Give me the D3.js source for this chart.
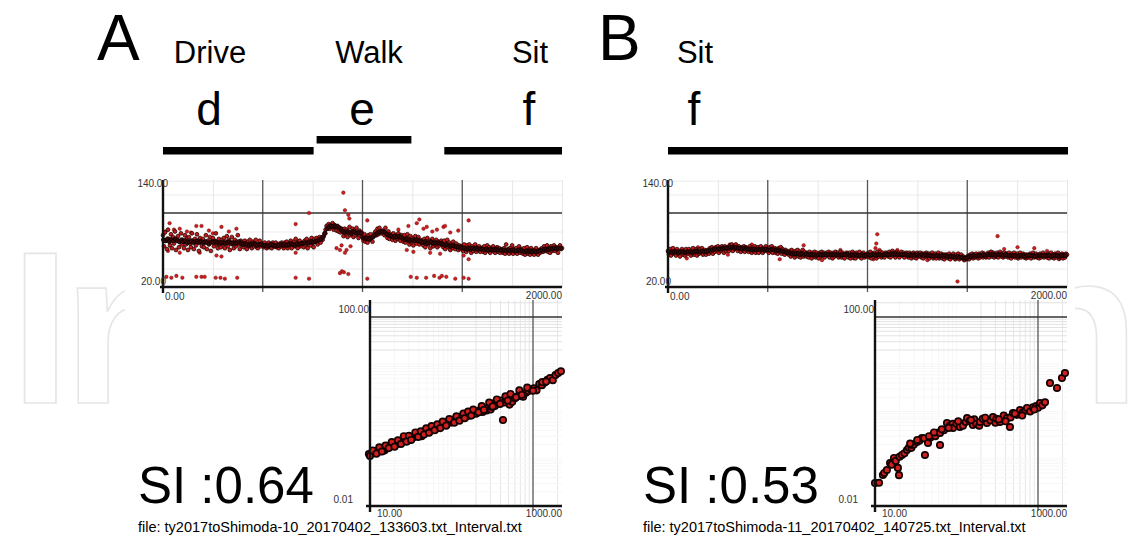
<!DOCTYPE html>
<html><head><meta charset="utf-8">
<script src="https://cdn.jsdelivr.net/npm/d3@7"></script>
<style>
body{margin:0;background:#fff;}
svg{display:block;}
text{font-family:"Liberation Sans",Arial,Helvetica,sans-serif;}
</style>
</head><body>
<svg id="c" width="1145" height="538"></svg>
<script>
// ---------- DATA ----------
// Heart-rate-like time series, spread beats (one value every 5 beats, 0..2000)
const hrA = [
76,64,79,70,61,82,72,65,77,62,74,67,80,60,71,75,63,69,78,66,
71,62,76,66,73,60,74,67,63,78,70,61,72,65,77,68,59,73,70,64,
72,63,68,76,61,70,66,74,59,69,73,64,70,78,66,62,72,68,63,71,
66,73,62,69,75,64,71,60,68,74,66,62,71,64,69,76,66,61,70,65,
68,63,70,65,61,69,64,71,66,62,69,64,67,71,63,62,67,70,64,67,
66,63,68,65,62,66,68,63,66,62,68,64,66,68,63,66,62,67,64,68,
65,62,68,64,69,62,67,65,70,62,67,69,64,72,66,62,69,70,64,67,
68,63,70,65,72,62,68,70,65,73,68,63,72,69,73,66,71,74,68,72,
71,75,78,82,86,84,88,83,87,85,89,82,87,84,81,86,80,84,79,83,
80,75,83,77,82,74,80,85,76,79,83,74,81,76,84,78,73,81,76,79,
75,70,77,69,74,68,76,71,77,73,69,75,78,80,76,83,77,84,79,78,
81,78,76,84,77,73,80,72,77,74,71,78,73,70,76,72,78,73,70,76,
74,69,76,68,73,77,70,66,75,68,73,65,71,75,67,70,74,66,71,68,
70,65,72,63,68,73,66,70,62,68,72,64,69,66,71,63,69,65,67,70,
68,63,70,61,66,71,63,68,60,66,62,69,64,61,67,63,60,65,61,64,
64,59,66,61,58,65,60,66,61,57,64,59,62,66,58,62,60,64,58,62,
62,58,64,57,61,65,59,63,57,61,59,64,61,57,60,63,58,62,57,60,
61,57,62,56,66,58,61,56,62,58,65,56,61,58,62,56,60,64,57,61,
60,56,62,55,59,63,56,60,55,62,57,60,55,58,62,57,55,60,57,61,
62,58,64,59,61,65,58,62,57,64,59,62,65,59,63,61,57,63,65,61,
62];
// core beats (one value every 10 beats, offset 2.5)
const coreA = [
71,70,72,69,71,70,72,70,69,71, 69,70,68,69,70,68,69,70,68,69,
68,69,68,67,69,68,69,68,67,68, 68,67,68,69,67,68,67,68,69,67,
66,67,66,65,66,67,66,65,66,66, 65,65,64,65,66,65,64,65,65,66,
65,66,65,66,67,66,65,67,66,67, 67,68,67,68,69,68,69,70,71,72,
74,78,83,85,86,85,86,85,84,82, 80,79,80,79,78,80,79,78,79,78,
73,72,73,72,73,74,76,78,79,80, 80,79,77,76,75,74,75,74,75,74,
72,71,72,71,70,71,70,71,70,69, 68,69,67,68,69,67,68,67,68,67,
66,65,66,65,64,65,64,64,63,63, 62,62,61,62,61,62,61,62,61,61,
61,60,61,60,61,60,60,61,60,60, 59,60,59,60,59,60,59,59,60,59,
59,58,59,58,59,58,59,58,59,59, 60,61,60,61,62,61,62,61,62,62];
const hrB = [
59,55,61,54,58,62,56,59,54,61,56,59,53,58,61,55,59,54,61,57,
56,61,58,54,59,62,55,58,61,54,59,56,61,57,62,55,58,60,55,59,
60,56,62,58,63,56,61,58,63,59,64,57,62,59,64,61,57,64,59,62,
63,59,65,61,66,59,64,61,66,62,59,64,61,58,63,60,64,58,63,60,
62,58,64,59,57,62,59,64,57,61,63,57,61,64,59,57,62,59,64,59,
61,57,63,59,64,57,61,62,57,61,56,62,58,63,56,61,58,55,60,57,
58,55,59,53,60,55,58,52,59,54,60,53,58,52,57,60,53,58,55,53,
57,52,58,54,51,57,53,58,52,57,54,51,57,53,58,54,57,52,55,57,
54,58,52,57,54,51,57,53,58,54,57,52,55,58,52,57,54,51,56,57,
56,52,57,51,55,58,52,56,51,57,53,55,58,52,51,56,57,52,55,53,
56,57,52,58,51,56,53,57,55,51,58,53,56,58,52,57,55,52,57,55,
57,53,58,52,57,59,54,57,52,58,54,57,52,55,58,54,57,52,55,57,
56,52,57,55,51,56,57,52,56,51,57,53,56,57,52,56,51,56,53,57,
53,56,51,56,53,57,51,54,56,51,54,57,51,54,56,51,55,50,55,52,
55,51,56,50,54,52,56,52,50,55,52,56,50,53,55,51,53,49,52,50,
51,54,50,55,52,56,51,55,52,56,53,51,56,52,55,57,52,56,53,52,
53,57,52,56,58,53,57,52,56,53,57,52,56,58,53,56,52,57,53,56,
56,52,57,53,51,56,53,57,52,54,56,51,54,57,52,55,56,52,55,51,
55,52,54,56,51,54,57,52,55,56,52,54,51,56,52,55,57,52,55,53,
52,56,51,55,57,52,55,51,56,52,55,57,51,55,52,56,51,55,52,56,
55];
const coreB = [
58,58,57,58,58,57,58,58,57,58, 58,58,57,58,59,58,58,59,58,58,
59,60,60,61,61,61,61,62,62,62, 62,63,63,62,63,62,62,61,62,61,
61,61,60,61,60,61,60,61,60,61, 60,60,61,60,59,60,59,59,58,58,
57,57,56,56,56,56,55,56,55,56, 55,55,55,55,54,55,55,55,55,55,
55,55,55,55,55,55,54,55,55,55, 55,54,55,54,55,54,54,55,54,54,
55,54,55,55,54,55,55,54,55,55, 55,55,56,55,56,55,55,55,55,55,
54,55,54,55,54,55,54,55,54,55, 54,54,54,53,54,54,53,54,53,54,
53,53,53,53,52,53,52,52,51,51, 52,53,53,54,53,54,54,54,55,54,
55,55,55,55,54,55,55,55,54,55, 54,54,54,54,54,53,54,54,54,53,
54,54,54,54,53,54,54,54,54,54, 54,54,53,54,54,54,53,54,54,54];
const hrStep = 5, coreStep = 10, coreOffset = 2.5;

// scattered outlier beats [beat index, value]
const outA = [
[17,31],[42,30],[67,32],[97,30],[167,31],[193,31],[209,31],[264,30],[288,30],[310,29],[372,30],
[665,30],[732,29],[887,35],[897,37],[907,36],[929,34],[1024,29],[1242,31],[1272,30],[1319,30],
[1359,32],[1386,30],[1398,32],[1420,31],[1465,29],[1507,30],[1532,29],
[33,89],[84,83],[167,86],[193,86],[293,85],[368,83],[665,88],[732,100],[904,122],[912,103],
[929,98],[934,94],[1024,92],[1230,86],[1272,89],[1285,93],[1306,83],[1322,85],[1373,82],
[1406,85],[1414,86],[1532,92],
[25,59],[84,57],[184,57],[268,54],[293,53],[665,57],[887,60],[912,57],[1222,60],[1255,58],
[1339,57],[1389,56],[1507,54],[1532,50],[870,62],[895,65],[920,60],[940,64],
[12,80],[55,82],[120,80],[140,79],[230,81],[250,78],[330,80],[1180,82],[1350,80],[1440,79],[1480,81]];
const outB = [
[1049,77],[1044,67],[1652,75],[1451,26],[94,51],[680,65],[772,49],[864,60],[931,51],
[1752,63],[1836,62],[1685,61],[1618,58],[1040,62],[1060,60],[310,66],[300,55],[760,52],[1030,50],
[150,63],[420,66],[560,50],[1150,60],[1300,49],[1900,59],[1960,50]];

// log-log fluctuation plot: window size n, fluctuation F(n)
const dfaA_n = [9.7,10.5,11,11.5,12.5,13.5,14.5,15,16,17.5,18,19,21,22,23,25,26,27,29,31,
33,34,37,38,40,43,45,47,50,51,55,58,60,65,68,70,76,80,82,89,92,96,100,104,112,118,121,131,135,142,
150,153,165,170,178,192,200,207,223,230,241,260,270,280,302,310,326,340,352,380,
410,428,442,477,515,556,600,648,700,756,816,880,950,1025,1106,1194,1289,1391,1501,1620,1749,1888,2037,2200,
10,10.8,12,13,14,15.5,17,18.5,20,22,24,26,28,30,32,36,39,42,46,49,53,57,62,67,73,78,86,94,
108,115,125,140,145,160,175,185,215,235,250,290,320,360,395,460,490,530,620,680,730,850,1000,1300,1450];
const dfaA_F = [0.126,0.13,0.14,0.135,0.15,0.145,0.16,0.15,0.165,0.18,0.2,0.19,0.2,0.21,0.22,0.23,0.26,0.25,0.24,0.28,
0.27,0.29,0.31,0.34,0.33,0.3,0.35,0.37,0.42,0.4,0.42,0.4,0.45,0.43,0.47,0.5,0.52,0.58,0.55,0.6,
0.62,0.58,0.6,0.65,0.7,0.72,0.68,0.75,0.8,0.82,0.85,0.78,0.9,0.82,0.85,0.95,0.9,1.0,1.05,1.1,
0.98,1.12,1.05,1.2,1.1,1.25,1.45,1.3,1.6,1.5,1.7,0.66,1.55,1.75,1.4,1.6,1.9,2.1,2.2,2.05,
2.5,2.7,2.9,3.1,2.8,3.8,3.6,4.1,4.7,5.1,4.6,5.9,6.5,7.1,
0.115,0.15,0.128,0.175,0.142,0.19,0.168,0.225,0.18,0.245,0.205,0.3,0.23,0.305,0.25,0.36,0.29,0.38,0.325,0.44,0.355,0.49,0.4,0.535,0.445,0.61,0.5,0.69,
0.58,0.79,0.64,0.9,0.72,1.0,0.82,1.1,0.96,1.3,1.08,1.55,1.28,1.8,1.45,2.1,1.7,2.35,2.0,2.8,2.25,3.2,2.75,4.2,4.3];
const dfaB_n = [10,11.2,12.5,13,14,15.3,16,17.1,18,19.1,19.7,20,21.4,23,24.7,26,28,28.5,30,32.8,
35,37.7,40,41,44.7,48,51.5,55,60,62.8,62.8,70,76.4,83,90,90.6,100,110,120,130,
135,145,159,165,175,190,194,210,236,260,280,300,310,342,380,417,453,460,493,550,
601,650,700,733,800,868,950,1000,1059,1130,1220,1404,1711,1968,2143,
27,33,46,53,66,80,105,150,225,330,400,520,640,900];
const dfaB_F = [0.0307,0.031,0.0453,0.05,0.0578,0.0813,0.075,0.104,0.09,0.064,0.045,0.11,0.12,0.13,0.153,0.17,0.17,0.195,0.2,0.226,
0.24,0.275,0.27,0.12,0.216,0.28,0.318,0.3,0.36,0.351,0.195,0.4,0.571,0.5,0.55,0.448,0.55,0.47,0.5,0.6,
0.728,0.62,0.518,0.68,0.55,0.5,0.6,0.7,0.571,0.65,0.765,0.58,0.7,0.6,0.82,0.728,0.47,0.75,0.93,0.85,
1.076,0.95,1.05,1.19,1.0,1.22,1.3,1.2,1.51,1.35,1.56,4.0,3.14,5.1,6.5,
0.21,0.25,0.3,0.36,0.42,0.45,0.62,0.66,0.74,0.68,0.62,0.9,0.82,1.1];

// text / labels
const panelLetters = ["A","B"];
const actA = ["Drive","Walk","Sit"], segLabA = ["d","e","f"];
const actB = ["Sit"], segLabB = ["f"];
const segA = [[0,755],[770,1245],[1410,2000]];
const segB = [[0,2005]];
const siLabels = ["SI :0.64","SI :0.53"];
const fileLabels = ["file: ty2017toShimoda-10_20170402_133603.txt_Interval.txt",
                    "file: ty2017toShimoda-11_20170402_140725.txt_Interval.txt"];
const topYTicks = ["140.00","20.00"], topXTicks = ["0.00","2000.00"];
const logYTicks = ["100.00","0.01"], logXTicks = ["10.00","1000.00"];

// ---------- DRAW ----------
const svg = d3.select("#c");
svg.append("rect").attr("width",1145).attr("height",538).attr("fill","#fff");

// faint watermark behind the figure
svg.append("text").text("IntechOpen")
  .attr("x",10).attr("y",403).attr("font-size",218).attr("font-weight","bold")
  .attr("textLength",1130).attr("lengthAdjust","spacing")
  .attr("fill","none").attr("stroke","#e6e6e6").attr("stroke-width",1.6);
svg.append("rect").attr("x",125).attr("y",0).attr("width",950).attr("height",538).attr("fill","#fff");

function drawPanel(p){
  const g = svg.append("g");
  const dx = p.dx;
  // ---- time series plot ----
  const x = d3.scaleLinear().domain([0,2000]).range([163+dx,562+dx]);
  const y = d3.scaleLinear().domain([20,100]).range([287,213]);
  const top = 180, bot = 287;
  g.append("g").attr("transform",`translate(0,${bot})`)
    .call(d3.axisBottom(x).tickValues([250,750,1250,1750,2000]).tickSize(-(bot-top)).tickFormat(""))
    .call(a=>{a.select(".domain").remove(); a.selectAll("line").attr("stroke","#e6e6e6");});
  g.append("g").attr("transform",`translate(${x(0)},0)`)
    .call(d3.axisLeft(y).tickValues([40,60,80,120,135]).tickSize(-(x(2000)-x(0))).tickFormat(""))
    .call(a=>{a.select(".domain").remove(); a.selectAll("line").attr("stroke","#ececec");});
  g.selectAll(".vmaj").data([500,1000,1500]).join("line")
    .attr("x1",d=>x(d)).attr("x2",d=>x(d)).attr("y1",top).attr("y2",bot+5)
    .attr("stroke","#555").attr("stroke-width",1.3);
  g.append("line").attr("x1",x(0)).attr("x2",x(2000)).attr("y1",y(100)).attr("y2",y(100))
    .attr("stroke","#333").attr("stroke-width",1.3);
  g.append("g").selectAll("circle").data(p.out).join("circle")
    .attr("cx",d=>x(d[0])).attr("cy",d=>y(d[1])).attr("r",1.8)
    .attr("fill","#d01e1e").attr("stroke","#5a0a0a").attr("stroke-width",0.4);
  g.append("g").selectAll("circle").data(p.hr).join("circle")
    .attr("cx",(d,i)=>x(i*hrStep)).attr("cy",d=>y(d)).attr("r",1.9)
    .attr("fill","#c81a1a").attr("stroke","#240404").attr("stroke-width",0.8);
  g.append("g").selectAll("circle").data(p.core).join("circle")
    .attr("cx",(d,i)=>x(i*coreStep+coreOffset)).attr("cy",d=>y(d)).attr("r",2.1)
    .attr("fill","#3a0808").attr("stroke","#0e0202").attr("stroke-width",0.8);
  g.append("line").attr("x1",x(0)-3).attr("x2",x(2000)).attr("y1",bot).attr("y2",bot)
    .attr("stroke","#111").attr("stroke-width",2.4);
  g.append("line").attr("x1",x(0)).attr("x2",x(0)).attr("y1",top).attr("y2",bot+6)
    .attr("stroke","#111").attr("stroke-width",2.4);
  const t = (txt,xx,yy,anchor)=>g.append("text").text(txt).attr("x",xx).attr("y",yy)
      .attr("text-anchor",anchor).attr("font-size",10).attr("fill","#333");
  t(topYTicks[0], x(0)+5, y(140)+11, "end");
  t(topYTicks[1], x(0)+3, y(20)-2, "end");
  t(topXTicks[0], x(0)+2, bot+13, "start");
  t(topXTicks[1], x(2000), bot+12, "end");

  // ---- log-log plot ----
  const lx = d3.scaleLog().domain([10,1000]).range([370+dx,533+dx]);
  const ly = d3.scaleLog().domain([0.01,100]).range([506,317]);
  const lTop = 300, lBot = 506, lRight = 562+dx;
  const minorX = [20,30,40,50,60,70,80,90,100,200,300,400,500,600,700,800,900,2000];
  const minorY = [0.02,0.03,0.04,0.05,0.06,0.07,0.08,0.09,0.1,0.2,0.3,0.4,0.5,0.6,0.7,0.8,0.9,1,
                  2,3,4,5,6,7,8,9,10,20,30,40,50,60,70,80,90,200];
  g.selectAll(".lmx").data(minorX).join("line")
    .attr("x1",d=>lx(d)).attr("x2",d=>lx(d)).attr("y1",lTop).attr("y2",lBot)
    .attr("stroke",d=>d>=200?"#e6e6e6":"#f7f7f7").attr("stroke-width",1);
  g.selectAll(".lmy").data(minorY).join("line")
    .attr("x1",lx(10)).attr("x2",lRight).attr("y1",d=>ly(d)).attr("y2",d=>ly(d))
    .attr("stroke",d=>d>=20?"#e2e2e2":"#f7f7f7").attr("stroke-width",1);
  g.append("line").attr("x1",lx(1000)).attr("x2",lx(1000)).attr("y1",lTop).attr("y2",lBot+5)
    .attr("stroke","#555").attr("stroke-width",1.3);
  g.append("line").attr("x1",lx(10)).attr("x2",lRight).attr("y1",ly(100)).attr("y2",ly(100))
    .attr("stroke","#333").attr("stroke-width",1.3);
  g.append("g").selectAll("circle").data(p.n.map((v,i)=>[v,p.F[i]])).join("circle")
    .attr("cx",d=>lx(d[0])).attr("cy",d=>ly(d[1])).attr("r",3.2)
    .attr("fill","#d02020").attr("stroke","#140202").attr("stroke-width",1.7);
  g.append("line").attr("x1",lx(10)-4).attr("x2",lRight).attr("y1",lBot).attr("y2",lBot)
    .attr("stroke","#111").attr("stroke-width",2.4);
  g.append("line").attr("x1",lx(10)).attr("x2",lx(10)).attr("y1",lTop).attr("y2",lBot+6)
    .attr("stroke","#111").attr("stroke-width",2.4);
  t(logYTicks[0], lx(10)-1, ly(100)-4, "end");
  t(logYTicks[1], lx(10)-17, ly(0.01)-3, "end");
  t(logXTicks[0], lx(10)+7, lBot+11, "start");
  t(logXTicks[1], lRight, lBot+11, "end");

  // ---- header ----
  const hdr = (txt,xx,yy,size,anchor)=>svg.append("text").text(txt).attr("x",xx).attr("y",yy)
     .attr("font-size",size).attr("text-anchor",anchor||"start").attr("fill","#000");
  hdr(p.letter, p.letterX, 60, 64);
  p.acts.forEach((a,i)=>hdr(a, p.actX[i], 63, 31, "middle"));
  p.segLab.forEach((a,i)=>hdr(a, p.segLabX[i], 125, 46, "middle"));
  g.selectAll(".seg").data(p.segs).join("rect")
    .attr("x",d=>x(d[0])).attr("width",d=>x(d[1])-x(d[0]))
    .attr("y",(d,i)=>p.segY[i]).attr("height",7.5).attr("fill","#000");
  hdr(p.si, p.siX, 503, 51);
  hdr(p.file, p.siX, 532, 14.5);
}

drawPanel({dx:0, hr:hrA, core:coreA, out:outA, n:dfaA_n, F:dfaA_F, letter:panelLetters[0], letterX:97,
  acts:actA, actX:[210,369,530], segLab:segLabA, segLabX:[209,362,529], segs:segA, segY:[147,136,147],
  si:siLabels[0], siX:138, file:fileLabels[0]});
drawPanel({dx:505, hr:hrB, core:coreB, out:outB, n:dfaB_n, F:dfaB_F, letter:panelLetters[1], letterX:598,
  acts:actB, actX:[695], segLab:segLabB, segLabX:[694], segs:segB, segY:[147],
  si:siLabels[1], siX:643, file:fileLabels[1]});
</script>
</body></html>
